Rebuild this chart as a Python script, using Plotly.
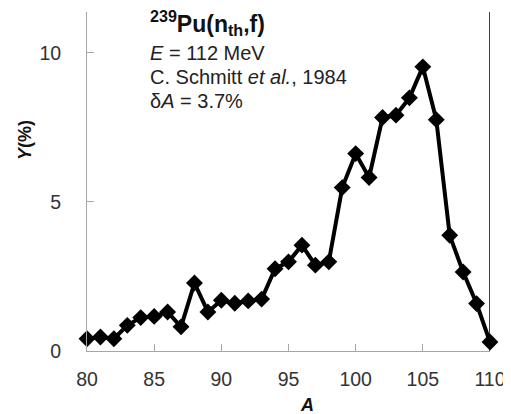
import plotly.graph_objects as go

mass_A = list(range(80, 111))
yield_pct = [0.41, 0.47, 0.41, 0.86, 1.12, 1.16, 1.31, 0.81, 2.28, 1.31,
             1.70, 1.60, 1.68, 1.74, 2.76, 2.99, 3.55, 2.88, 2.99, 5.48,
             6.62, 5.82, 7.83, 7.91, 8.49, 9.53, 7.76, 3.88, 2.65, 1.59, 0.30]

x_ticks = [80, 85, 90, 95, 100, 105, 110]
y_ticks = [0, 5, 10]

FONT = "Liberation Sans, Arial, sans-serif"
AX = "#a6a6a6"

fig = go.Figure()
fig.add_trace(go.Scatter(
    x=mass_A, y=yield_pct, mode="lines+markers",
    line=dict(color="black", width=4),
    marker=dict(symbol="diamond", size=13, color="black"),
    showlegend=False, cliponaxis=False,
))

# page body has an 8px default margin; compensate so plot area sits where the reference has it
fig.update_layout(
    width=503, height=406,
    margin=dict(l=79, r=21, t=4, b=63, autoexpand=False),
    paper_bgcolor="white", plot_bgcolor="white",
    font=dict(family=FONT, size=19.5, color="#333"),
    xaxis=dict(range=[80, 110], tickvals=x_ticks, ticks="inside", ticklen=7,
               tickcolor=AX, showline=True, linecolor=AX, linewidth=1,
               showgrid=False, zeroline=False, ticklabelstandoff=11,
               automargin=False),
    yaxis=dict(range=[0, 11.37], tickvals=y_ticks, ticks="inside", ticklen=7,
               tickcolor=AX, showline=True, linecolor=AX, linewidth=1,
               showgrid=False, zeroline=False, ticklabelstandoff=21,
               automargin=False),
)

fig.add_shape(type="line", xref="x", yref="paper", x0=110, x1=110, y0=0, y1=1,
              line=dict(color="black", width=1.5))

def ann(text, x, y, size=20, xanchor="left", textangle=0, xref="paper", color="#222"):
    fig.add_annotation(text=text, x=x, y=y, xref=xref, yref="paper",
                       xanchor=xanchor, yanchor="middle", showarrow=False,
                       textangle=textangle, font=dict(family=FONT, size=size, color=color))

ann("<b><sup>239</sup>Pu(n<sub>th</sub>,f)</b>", 0.151, 0.968, size=23, color="#111")
ann("<i>E</i> = 112 MeV", 0.151, 0.880)
ann("C. Schmitt <i>et al.</i>, 1984", 0.151, 0.807)
ann("δ<i>A</i> = 3.7%", 0.151, 0.738)
ann("<b><i>A</i></b>", 96.4, -0.158, size=18, xanchor="center", xref="x", color="#111")
ann("<b><i>Y</i>(%)</b>", -0.154, 0.622, size=18, xanchor="center", textangle=-90, color="#111")

fig.write_html("out.html")
